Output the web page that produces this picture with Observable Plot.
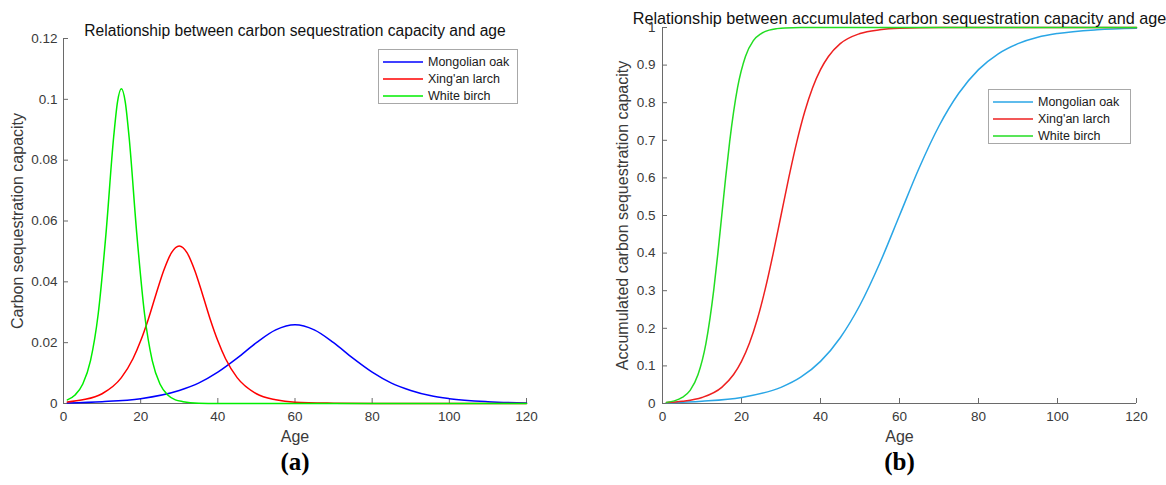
<!DOCTYPE html>
<html>
<head>
<meta charset="utf-8">
<script src="https://cdn.jsdelivr.net/npm/d3@7"></script>
<script src="https://cdn.jsdelivr.net/npm/@observablehq/plot@0.6"></script>
<style>
  body { margin: 0; background: white; font-family: "Liberation Sans", Arial, sans-serif; }
  #wrap { position: relative; width: 1166px; height: 485px; overflow: hidden; }
  .panel { position: absolute; top: 0; width: 583px; height: 485px; }
  .legend { position: absolute; border: 1px solid #a8a8a8; background: white; box-sizing: border-box; padding-top: 3px; }
  .legend .row { display: flex; align-items: center; height: 17px; font-size: 12.5px; color: #1a1a1a; }
  .legend svg { display: block; margin: 0 5px 0 4px; }
</style>
</head>
<body>
<div id="wrap">
  <div class="panel" id="pa" style="left:0"></div>
  <div class="panel" id="pb" style="left:583px"></div>
</div>
<script>
// ---- data ----
const species = ["Mongolian oak", "Xing'an larch", "White birch"];
const colorsA = ["#0000ff", "#ff0000", "#00ee00"];
const colorsB = ["#2aa6e6", "#ee2020", "#22dd22"];

const oakAges   = [1, 10, 20, 30, 35, 40, 45, 50, 55, 60, 65, 70, 75, 80, 85, 90, 95, 100, 110, 120];
const oakRate   = [0.0002, 0.0006, 0.0016, 0.0043, 0.0067, 0.0103, 0.0149, 0.0200, 0.0242, 0.0259, 0.0242, 0.0200, 0.0149, 0.0103, 0.0067, 0.0043, 0.0026, 0.0016, 0.0006, 0.0002];
const oakCum    = [0.002, 0.006, 0.016, 0.043, 0.070, 0.112, 0.175, 0.262, 0.373, 0.5, 0.627, 0.738, 0.825, 0.888, 0.930, 0.957, 0.974, 0.984, 0.994, 0.998];

const larchAges = [1, 5, 10, 15, 18, 20, 22, 24, 26, 28, 30, 32, 34, 36, 38, 40, 42, 45, 50, 55, 60, 70, 80, 100, 120];
const larchRate = [0.0005, 0.0012, 0.0032, 0.0085, 0.0147, 0.0206, 0.0278, 0.0360, 0.0438, 0.0496, 0.0518, 0.0496, 0.0438, 0.0360, 0.0278, 0.0206, 0.0147, 0.0085, 0.0032, 0.0012, 0.0004, 0.0001, 0, 0, 0];
const larchCum  = [0.0025, 0.006, 0.016, 0.043, 0.077, 0.112, 0.160, 0.224, 0.304, 0.398, 0.5, 0.602, 0.696, 0.776, 0.840, 0.888, 0.923, 0.957, 0.984, 0.994, 0.998, 1, 1, 1, 1];

const birchAges = [1, 3, 5, 7, 9, 11, 13, 14, 15, 16, 17, 19, 21, 23, 25, 27, 29, 31, 35, 40, 60, 80, 100, 120];
const birchRate = [0.0012, 0.0028, 0.0064, 0.0141, 0.0295, 0.0557, 0.0876, 0.0992, 0.1035, 0.0992, 0.0876, 0.0557, 0.0295, 0.0141, 0.0064, 0.0028, 0.0012, 0.0006, 0.0001, 0, 0, 0, 0, 0];
const birchCum  = [0.003, 0.007, 0.016, 0.035, 0.077, 0.160, 0.304, 0.398, 0.5, 0.602, 0.696, 0.840, 0.923, 0.965, 0.984, 0.993, 0.997, 0.999, 1, 1, 1, 1, 1, 1];

const xTicks  = [0, 20, 40, 60, 80, 100, 120];
const yTicksA = [0, 0.02, 0.04, 0.06, 0.08, 0.1, 0.12];
const yTicksB = [0, 0.1, 0.2, 0.3, 0.4, 0.5, 0.6, 0.7, 0.8, 0.9, 1];

const titleA = "Relationship between carbon sequestration capacity and age";
const titleB = "Relationship between accumulated carbon sequestration capacity and age";
const yLabelA = "Carbon sequestration capacity";
const yLabelB = "Accumulated carbon sequestration capacity";
const xLabel = "Age";
const captions = ["(a)", "(b)"];

// ---- build rows ----
function rows(ages, vals) { return ages.map((a, i) => ({age: a, v: vals[i]})); }
const seriesA = [rows(oakAges, oakRate), rows(larchAges, larchRate), rows(birchAges, birchRate)];
const seriesB = [rows(oakAges, oakCum), rows(larchAges, larchCum), rows(birchAges, birchCum)];

const FONT = '"Liberation Sans", Arial, sans-serif';

function panel({series, colors, yDomain, yTicks, title, titleSize, yLabel, caption, mL, mR, mT, titleDy, yLabelDx, yPad}) {
  const lines = series.map((d, i) => Plot.line(d, {x: "age", y: "v", stroke: colors[i], strokeWidth: 1.5, curve: "monotone-x"}));
  return Plot.plot({
    width: 583, height: 485,
    marginLeft: mL, marginRight: mR, marginTop: mT, marginBottom: 82,
    style: {fontFamily: FONT, fontSize: "13px", background: "white", overflow: "visible"},
    x: {domain: [0, 120]},
    y: {domain: yDomain},
    marks: [
      Plot.ruleX([0], {stroke: "#6a6a6a"}),
      Plot.ruleY([0], {stroke: "#6a6a6a"}),
      Plot.axisX({ticks: xTicks, tickSize: -5, tickPadding: 13, label: null, stroke: "#6a6a6a", fill: "#3a3a3a", fontSize: 13.5, tickFormat: d => String(d)}),
      Plot.axisY({ticks: yTicks, tickSize: -5, tickPadding: yPad, label: null, stroke: "#6a6a6a", fill: "#3a3a3a", fontSize: 13.5, tickFormat: d => String(d)}),
      ...lines,
      Plot.text([title], {frameAnchor: "top", dy: titleDy, text: d => d, fontSize: titleSize, fill: "#111"}),
      Plot.text([yLabel], {frameAnchor: "left", textAnchor: "middle", rotate: -90, dx: yLabelDx, text: d => d, fontSize: 16, fill: "#3a3a3a"}),
      Plot.text([xLabel], {frameAnchor: "bottom", dy: 38, text: d => d, fontSize: 16, fill: "#3a3a3a"}),
      Plot.text([caption], {frameAnchor: "bottom", dy: 66, text: d => d, fontSize: 25, fontWeight: "bold", fontFamily: '"Liberation Serif", "Times New Roman", serif', fill: "#000"})
    ]
  });
}

const pa = panel({series: seriesA, colors: colorsA, yDomain: [0, 0.12], yTicks: yTicksA, title: titleA, titleSize: 15.6, yLabel: yLabelA, caption: captions[0], mL: 63, mR: 57, mT: 38, titleDy: -14, yLabelDx: -46, yPad: 11});
const pb = panel({series: seriesB, colors: colorsB, yDomain: [0, 1], yTicks: yTicksB, title: titleB, titleSize: 16.2, yLabel: yLabelB, caption: captions[1], mL: 79, mR: 30, mT: 27, titleDy: -15, yLabelDx: -40, yPad: 12});
document.getElementById("pa").appendChild(pa);
document.getElementById("pb").appendChild(pb);

function legend(colors, left, top, width) {
  const el = document.createElement("div");
  el.className = "legend";
  el.style.left = left + "px"; el.style.top = top + "px"; el.style.width = width + "px"; el.style.height = "55px";
  species.forEach((s, i) => {
    const r = document.createElement("div"); r.className = "row";
    const ns = "http://www.w3.org/2000/svg";
    const sv = document.createElementNS(ns, "svg");
    sv.setAttribute("width", "40"); sv.setAttribute("height", "6");
    const ln = document.createElementNS(ns, "line");
    ln.setAttribute("x1", "0"); ln.setAttribute("x2", "40"); ln.setAttribute("y1", "3"); ln.setAttribute("y2", "3");
    ln.setAttribute("stroke", colors[i]); ln.setAttribute("stroke-width", "1.5");
    sv.appendChild(ln);
    const t = document.createElement("span"); t.textContent = s;
    r.appendChild(sv); r.appendChild(t); el.appendChild(r);
  });
  document.getElementById("wrap").appendChild(el);
}
legend(colorsA, 378, 49, 140);
legend(colorsB, 988, 89, 143);
</script>
</body>
</html>
